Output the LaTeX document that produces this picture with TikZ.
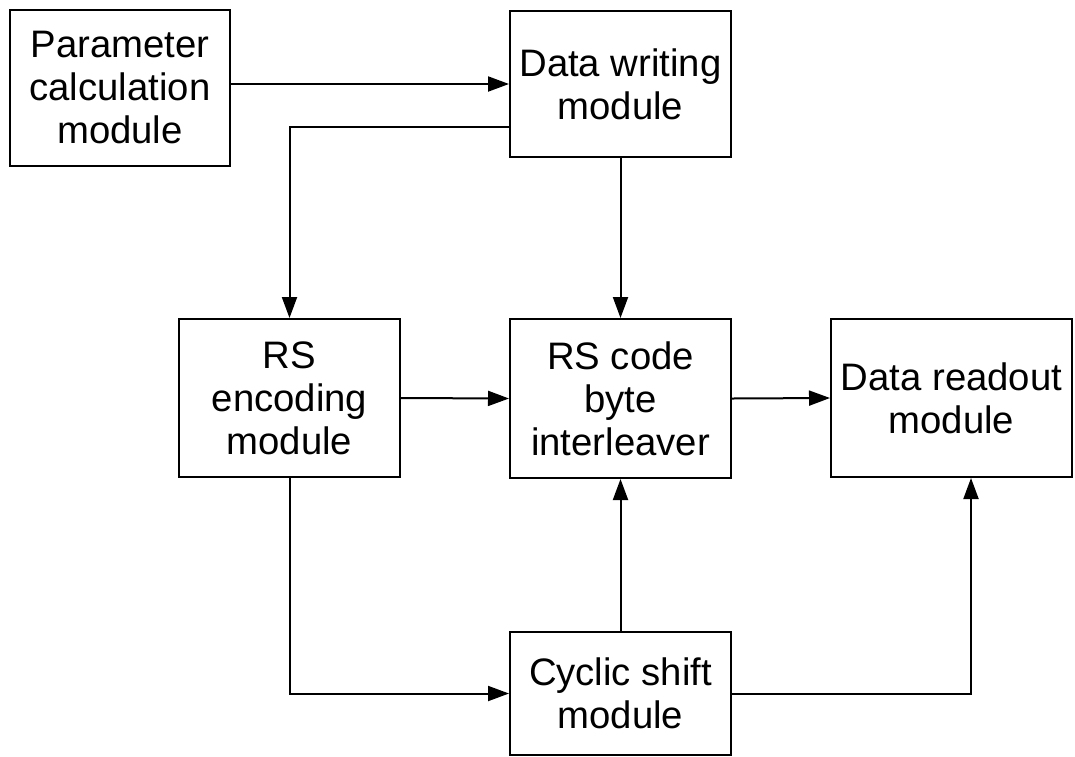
\documentclass[tikz,border=0pt]{standalone}
\usepackage{fontspec}
\setmainfont{Liberation Sans}
\usetikzlibrary{arrows.meta}
\begin{document}
\begin{tikzpicture}[x=1pt,y=-1pt,
  box/.style={draw=black,line width=2pt,fill=white,inner sep=0pt,align=center,
    font=\fontsize{38.3}{43}\selectfont},
  arr/.style={draw=black,line width=2pt,-{Triangle[length=21pt,width=15pt]}},
  ln/.style={draw=black,line width=2pt}]
\useasboundingbox (0,0) rectangle (1075,756);
\node[box,minimum width=220pt,minimum height=156pt] (param) at (120,88) {Parameter\\calculation\\module};
\node[box,minimum width=221pt,minimum height=146pt] (write) at (620.5,84) {Data writing\\module};
\node[box,minimum width=221pt,minimum height=158pt] (enc) at (289.5,398) {RS\\encoding\\module};
\node[box,minimum width=221pt,minimum height=159pt] (intl) at (620.5,398.5) {RS code\\byte\\interleaver};
\node[box,minimum width=241pt,minimum height=158pt] (read) at (951.5,398) {Data readout\\module};
\node[box,minimum width=221pt,minimum height=123pt] (cyc) at (620.5,693.5) {Cyclic shift\\module};
\draw[arr] (param.east |- write.west) -- (write.west);
\draw[arr] ([yshift=-43pt]write.west) -| (enc.north);
\draw[arr] (write.south) -- (intl.north);
\draw[arr] (enc.east) -- (intl.west);
\draw[arr] (intl.east) -- (read.west);
\draw[arr] (enc.south) |- (cyc.west);
\draw[arr] (cyc.north) -- (intl.south);
\draw[arr] (cyc.east) -| ([xshift=19.5pt]read.south);
\end{tikzpicture}
\end{document}
